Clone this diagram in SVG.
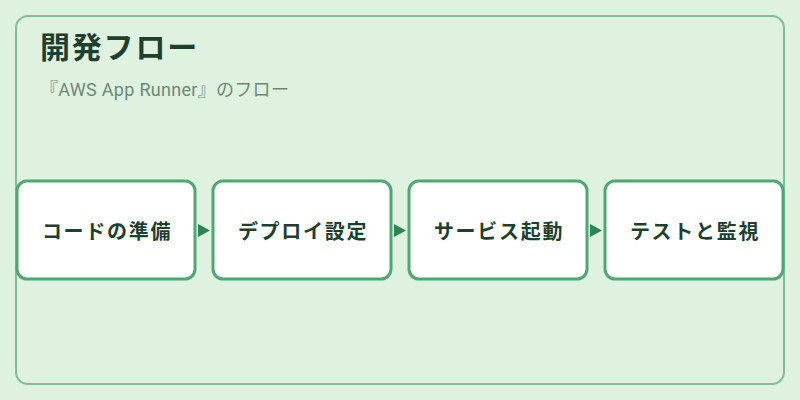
<svg xmlns="http://www.w3.org/2000/svg" width="800" height="400" viewBox="0 0 800 400">
<defs>
<style>
.node rect{fill:#ffffff;stroke:#4fa872;stroke-width:3}
.node text{font-family:"Noto Sans CJK JP","Noto Sans",sans-serif;font-size:20px;letter-spacing:1.7px;font-weight:bold;fill:#1f3f2e;text-anchor:middle}
.title{font-family:"Noto Sans CJK JP","Noto Sans",sans-serif;font-size:30px;letter-spacing:1.8px;font-weight:bold;fill:#1f3f2e}
.sub{font-family:"Roboto","Noto Sans CJK JP",sans-serif;font-size:18px;letter-spacing:0.3px;fill:#6b8a76}
.conn path{fill:#2f8550}
</style>
</defs>
<rect x="0" y="0" width="800" height="400" fill="#dff1df"/>
<rect x="16" y="16" width="768" height="368" rx="12" fill="#dff1df" stroke="#7fbf95" stroke-width="2"/>
<text class="title" x="40" y="58">開発フロー</text>
<text class="sub" x="40" y="96">『AWS App Runner』のフロー</text>
<g class="conn">
<path d="M198,224 L210,230.5 L198,237 Z"/>
<path d="M394,224 L406,230.5 L394,237 Z"/>
<path d="M590,224 L602,230.5 L590,237 Z"/>
</g>
<g id="n1" class="node"><rect x="17" y="181" width="178" height="98" rx="10"/><text x="107" y="239">コードの準備</text></g>
<g id="n2" class="node"><rect x="213" y="181" width="178" height="98" rx="10"/><text x="303" y="239">デプロイ設定</text></g>
<g id="n3" class="node"><rect x="409" y="181" width="178" height="98" rx="10"/><text x="499" y="239">サービス起動</text></g>
<g id="n4" class="node"><rect x="605" y="181" width="178" height="98" rx="10"/><text x="695" y="239">テストと監視</text></g>
</svg>
